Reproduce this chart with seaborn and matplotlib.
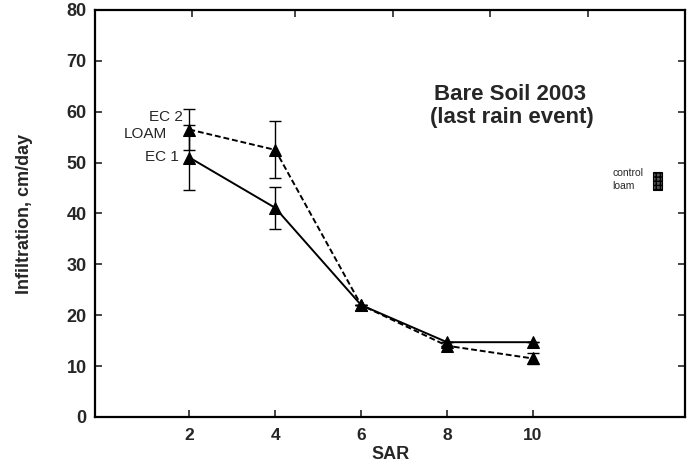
import matplotlib
matplotlib.use("Agg")
import matplotlib.pyplot as plt
from matplotlib.patches import Rectangle
import seaborn as sns
import pandas as pd

# Infiltration rate vs sodium adsorption ratio
sar = [2, 4, 6, 8, 10]
loam = [56.5, 52.5, 22.0, 14.0, 11.5]
loam_err = [4.0, 5.6, 0.0, 0.0, 1.0]
ec1 = [51.0, 41.1, 22.0, 14.7, 14.7]
ec1_err = [6.3, 4.1, 0.0, 0.0, 0.0]

xticks = [2, 4, 6, 8, 10]
yticks = [0, 10, 20, 30, 40, 50, 60, 70, 80]

df = pd.DataFrame({
    "SAR": sar * 2,
    "Infiltration": loam + ec1,
    "series": ["LOAM"] * len(sar) + ["EC 1"] * len(sar),
})

sns.set_theme(style="white")
plt.rcParams["font.family"] = ["Liberation Sans", "DejaVu Sans"]

fig = plt.figure(figsize=(6.88, 4.76), dpi=100)
ax = fig.add_axes([0.138, 0.124, 0.858, 0.855])

sns.lineplot(data=df, x="SAR", y="Infiltration", style="series",
             style_order=["EC 1", "LOAM"], dashes={"EC 1": "", "LOAM": (3, 1.5)},
             markers={"EC 1": "^", "LOAM": "^"}, color="black", linewidth=1.4,
             markersize=9, markeredgecolor="black", legend=False, ax=ax)

ax.errorbar(sar, loam, yerr=loam_err, fmt="none", ecolor="black",
            elinewidth=1.0, capsize=4, capthick=1.0)
ax.errorbar(sar, ec1, yerr=ec1_err, fmt="none", ecolor="black",
            elinewidth=1.0, capsize=4, capthick=1.0)

ax.set_xlim(-0.2, 13.55)
ax.set_ylim(0, 80)
ax.set_xticks(xticks)
ax.set_yticks(yticks)
ax.tick_params(axis="x", direction="in", length=5, width=1.2, labelsize=12.5,
               pad=8, bottom=True, top=False)
ax.tick_params(axis="y", direction="in", length=5, width=1.2, labelsize=13,
               pad=6, left=True, right=True)
for lab in ax.get_xticklabels() + ax.get_yticklabels():
    lab.set_fontweight("bold")

top = ax.secondary_xaxis("top")
top.set_xticks([2.07, 4.45, 6.74, 9.0, 11.28])
top.tick_params(direction="in", length=5, width=1.2, labeltop=False)
top.spines["top"].set_visible(False)

for s in ax.spines.values():
    s.set_color("black")
    s.set_linewidth(1.6)

ax.set_xlabel("SAR", fontsize=13, fontweight="bold", labelpad=2)
ax.set_ylabel("Infiltration, cm/day", fontsize=13, fontweight="bold", labelpad=24)

ax.text(9.46, 63.3, "Bare Soil 2003", fontsize=16, fontweight="bold",
        ha="center", va="center")
ax.text(9.5, 58.9, "(last rain event)", fontsize=16, fontweight="bold",
        ha="center", va="center")

ax.text(1.84, 58.9, "EC 2", fontsize=11, ha="right", va="center")
ax.text(1.49, 55.6, "LOAM", fontsize=11, ha="right", va="center")
ax.text(1.75, 51.1, "EC 1", fontsize=11, ha="right", va="center")

ax.text(11.86, 47.9, "control", fontsize=7.5, ha="left", va="center")
ax.text(11.86, 45.4, "loam", fontsize=7.5, ha="left", va="center")
ax.add_patch(Rectangle((12.8, 44.6), 0.21, 3.5, facecolor="#555555",
                       edgecolor="black", hatch="++++", linewidth=0.8))

fig.savefig("out.png", dpi=100)
